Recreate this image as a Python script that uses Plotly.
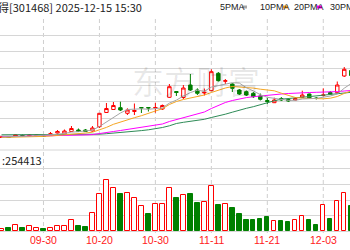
import plotly.graph_objects as go

# ---------------- data ----------------
dates = ["09-22", "09-23", "09-24", "09-25", "09-26", "09-29", "09-30", "10-09", "10-10", "10-13",
         "10-14", "10-15", "10-16", "10-17", "10-20", "10-21", "10-22", "10-23", "10-24", "10-27",
         "10-28", "10-29", "10-30", "10-31", "11-03", "11-04", "11-05", "11-06", "11-07", "11-10",
         "11-11", "11-12", "11-13", "11-14", "11-17", "11-18", "11-19", "11-20", "11-21", "11-24",
         "11-25", "11-26", "11-27", "11-28", "12-01", "12-02", "12-03", "12-04", "12-05", "12-08",
         "12-09"]

open_ = [19.25, 19.40, 19.70, 19.85, 19.70, 19.76, 19.70, 20.24, 20.60, 20.30,
         21.05, 21.50, 21.50, 21.20, 22.49, 26.75, 27.65, 28.19, 26.51, 27.05,
         28.25, 28.25, 28.10, 27.80, 31.31, 33.05, 31.25, 35.00, 33.50, 32.60,
         33.29, 38.51, 36.11, 35.30, 33.50, 32.99, 32.51, 31.70, 30.35, 29.69,
         30.95, 30.65, 30.50, 31.31, 32.30, 31.10, 31.85, 32.75, 32.69, 37.70,
         39.35]
close = [19.40, 19.25, 20.00, 19.70, 19.94, 20.00, 19.55, 20.36, 21.05, 21.20,
         21.95, 21.05, 21.05, 22.10, 26.51, 27.95, 28.85, 27.50, 27.50, 27.35,
         28.10, 28.10, 28.25, 28.85, 34.49, 32.75, 34.10, 33.50, 32.51, 32.81,
         38.99, 36.29, 36.29, 34.01, 32.30, 32.00, 31.49, 30.71, 30.05, 30.50,
         30.50, 30.20, 30.95, 32.00, 31.01, 30.95, 32.00, 32.30, 35.00, 39.71,
         37.85]
high = [19.61, 19.55, 20.15, 20.15, 20.15, 20.15, 19.85, 20.90, 21.50, 21.65,
        22.70, 21.95, 21.80, 22.70, 26.60, 29.60, 29.90, 29.99, 28.01, 29.45,
        28.31, 28.31, 29.69, 29.15, 35.30, 33.14, 35.00, 38.30, 34.01, 33.95,
        39.71, 38.90, 36.80, 35.51, 33.80, 33.35, 32.90, 32.45, 31.10, 31.19,
        31.40, 31.10, 31.40, 33.29, 32.45, 31.40, 34.01, 33.20, 36.05, 40.40,
        40.80]
low = [19.10, 19.10, 19.55, 19.55, 19.55, 19.70, 19.40, 20.00, 20.45, 20.15,
       20.90, 20.90, 20.90, 20.99, 22.10, 26.60, 27.50, 27.20, 26.00, 26.00,
       26.60, 27.05, 26.69, 27.50, 31.10, 31.70, 30.80, 33.20, 32.00, 31.85,
       33.20, 36.05, 35.30, 32.90, 32.00, 31.70, 31.10, 30.35, 29.30, 29.60,
       30.20, 29.90, 30.35, 31.16, 30.80, 30.65, 31.55, 32.00, 32.45, 37.40,
       37.55]

ma5 = [19.40, 19.40, 19.55, 19.61, 19.67, 19.79, 19.82, 19.97, 20.21, 20.48,
       20.87, 20.99, 21.29, 21.47, 22.55, 23.90, 25.28, 26.60, 27.65, 27.83,
       27.86, 27.71, 27.86, 28.13, 29.57, 30.47, 31.67, 32.72, 33.44, 33.11,
       34.37, 34.82, 35.39, 35.69, 35.57, 34.19, 33.23, 32.09, 31.31, 30.95,
       30.65, 30.38, 30.41, 30.80, 30.89, 30.98, 31.34, 31.70, 32.30, 34.04,
       35.45]
ma10 = [19.25, 19.28, 19.34, 19.40, 19.46, 19.52, 19.58, 19.70, 19.85, 20.06,
        20.30, 20.48, 20.60, 20.84, 21.50, 22.28, 23.21, 23.93, 24.56, 25.19,
        25.79, 26.51, 27.23, 27.89, 29.15, 30.05, 30.65, 31.10, 31.55, 32.00,
        32.75, 33.50, 34.10, 34.55, 34.46, 34.34, 34.07, 33.74, 33.50, 33.26,
        32.54, 31.85, 31.25, 31.04, 30.92, 30.83, 30.86, 31.04, 31.55, 32.48,
        33.23]
ma20 = [19.46, 19.49, 19.52, 19.55, 19.58, 19.61, 19.64, 19.70, 19.76, 19.82,
        19.91, 19.97, 20.03, 20.12, 20.36, 20.72, 21.05, 21.35, 21.65, 21.95,
        22.25, 22.55, 22.91, 23.30, 24.05, 24.65, 25.16, 25.70, 26.30, 26.90,
        27.95, 28.85, 29.75, 30.35, 30.86, 31.22, 31.49, 31.73, 31.94, 32.15,
        32.30, 32.45, 32.60, 32.69, 32.75, 32.81, 32.84, 32.90, 33.02, 33.20,
        33.35]
ma30 = [20.06, 20.06, 20.06, 20.06, 20.06, 20.06, 20.06, 20.06, 20.06, 20.06,
        20.06, 20.09, 20.12, 20.15, 20.24, 20.39, 20.54, 20.72, 20.90, 21.11,
        21.32, 21.56, 21.86, 22.25, 22.76, 23.45, 23.81, 24.05, 24.35, 24.71,
        25.25, 25.70, 26.24, 26.84, 27.50, 28.01, 28.49, 29.15, 29.75, 30.26,
        30.74, 31.01, 31.19, 31.34, 31.52, 31.70, 31.94, 32.12, 32.30, 32.54,
        32.81]

volume = [7400, 9700, 18400, 10600, 15200, 10600, 5500, 10600, 17100, 17100,
          34500, 15200, 11900, 58100, 120300, 165500, 138700, 120300, 123600, 107400,
          80600, 55800, 87100, 87100, 139700, 107400, 117100, 120300, 91300, 93500,
          145200, 84800, 87100, 75200, 55800, 34500, 34500, 37700, 46100, 31300,
          32300, 29000, 34500, 48400, 34500, 20300, 84800, 37700, 95800, 123600,
          80600]
vol_up = [1, 0, 1, 0, 1, 1, 0, 1, 1, 1,
          1, 0, 0, 1, 1, 1, 1, 0, 1, 1,
          1, 0, 1, 1, 1, 0, 1, 0, 0, 1,
          1, 0, 1, 0, 0, 0, 0, 0, 0, 1,
          0, 0, 1, 1, 0, 0, 1, 0, 1, 1,
          0]

tick_idx = [6, 14, 22, 30, 38, 46]
tick_text = ["09-30", "10-20", "10-30", "11-11", "11-21", "12-03"]

title_text = "得[301468] 2025-12-15 15:30"
vol_text = ":254413"
ma_names = ["5PMA", "10PMA", "20PMA", "30PMA"]

# ---------------- style ----------------
RED = "#ff0000"
GREEN = "#008000"
MA_COLORS = ["#a6a6a6", "#f5a623", "#ff00ff", "#2e8b57"]
W, H = 350, 250
FONT = "Noto Sans CJK SC, Liberation Sans, sans-serif"

x = list(range(len(dates)))

fig = go.Figure()

# moving averages
for ma, col in zip([ma30, ma20, ma10, ma5], MA_COLORS[::-1]):
    fig.add_trace(go.Scatter(x=x, y=ma, mode="lines", line=dict(color=col, width=1),
                             xaxis="x", yaxis="y", hoverinfo="skip"))

fig.add_trace(go.Candlestick(
    x=x, open=open_, high=high, low=low, close=close,
    increasing=dict(line=dict(color=RED, width=1), fillcolor="white"),
    decreasing=dict(line=dict(color=GREEN, width=1), fillcolor=GREEN),
    whiskerwidth=0, xaxis="x", yaxis="y"))

fig.add_trace(go.Bar(
    x=x, y=volume, width=0.62,
    marker=dict(color=["white" if u else GREEN for u in vol_up],
                line=dict(color=[RED if u else GREEN for u in vol_up], width=1)),
    xaxis="x2", yaxis="y2"))

xr = [-0.214, 49.82]
fig.update_layout(
    width=W, height=H, margin=dict(l=0, r=0, t=0, b=0),
    paper_bgcolor="white", plot_bgcolor="white", showlegend=False,
    xaxis=dict(range=xr, domain=[0, 1], showticklabels=False, showgrid=False,
               zeroline=False, rangeslider=dict(visible=False), anchor="y"),
    yaxis=dict(range=[19.1, 55.1], domain=[0.448, 0.928], showticklabels=False,
               tick0=20, dtick=5, gridcolor="#d6d6d6", gridwidth=1, zeroline=False),
    xaxis2=dict(range=xr, domain=[0, 1], showticklabels=False, showgrid=False,
                zeroline=False, anchor="y2"),
    yaxis2=dict(range=[0, 200000], domain=[0.076, 0.324], showticklabels=False,
                tick0=0, dtick=50000, gridcolor="#d6d6d6", gridwidth=1,
                zeroline=True, zerolinecolor="#d6d6d6", zerolinewidth=1),
    bargap=0,
)

shapes = []
for t in tick_idx:
    shapes.append(dict(type="line", xref="x", yref="paper", x0=t, x1=t, y0=0.068, y1=0.928,
                       line=dict(color="#cfcfcf", width=1, dash="4px,3px"), layer="below"))
# volume header band lines
for yy in [1 - 150 / H, 1 - 168.5 / H]:
    shapes.append(dict(type="line", xref="paper", yref="paper", x0=0, x1=1, y0=yy, y1=yy,
                       line=dict(color="#d6d6d6", width=1), layer="below"))
# legend colour marks
mark_px = [242, 283, 317]
for mx, col in zip(mark_px, MA_COLORS[:3]):
    shapes.append(dict(type="rect", xref="paper", yref="paper", x0=mx / W, x1=(mx + 5) / W,
                       y0=1 - 8.5 / H, y1=1 - 5.5 / H, fillcolor=col, line=dict(width=0)))
fig.update_layout(shapes=shapes)

ann = []
ann.append(dict(text="东方财富", xref="paper", yref="paper", x=196 / W, y=1 - 80 / H,
                xanchor="center", yanchor="middle", showarrow=False,
                font=dict(family=FONT, size=32, color="rgba(0,0,0,0.09)")))
ann.append(dict(text=title_text, xref="paper", yref="paper", x=-4 / W, y=1 - 7 / H,
                xanchor="left", yanchor="middle", showarrow=False,
                font=dict(family=FONT, size=11, color="#222")))
for name, px in zip(ma_names, [218, 258, 292, 328]):
    ann.append(dict(text=name, xref="paper", yref="paper", x=px / W, y=1 - 7 / H,
                    xanchor="left", yanchor="middle", showarrow=False,
                    font=dict(family="Liberation Sans Narrow, Liberation Sans", size=9, color="#222")))
ann.append(dict(text=vol_text, xref="paper", yref="paper", x=0, y=1 - 160 / H,
                xanchor="left", yanchor="middle", showarrow=False,
                font=dict(family=FONT, size=11, color="#222")))
for t, lab in zip(tick_idx, tick_text):
    ann.append(dict(text=lab, xref="x2", yref="paper", x=t, y=1 - 240 / H,
                    xanchor="center", yanchor="middle", showarrow=False,
                    font=dict(family="Liberation Sans", size=10.5, color="#ff2020")))
fig.update_layout(annotations=ann)

fig.write_html("out.html")
